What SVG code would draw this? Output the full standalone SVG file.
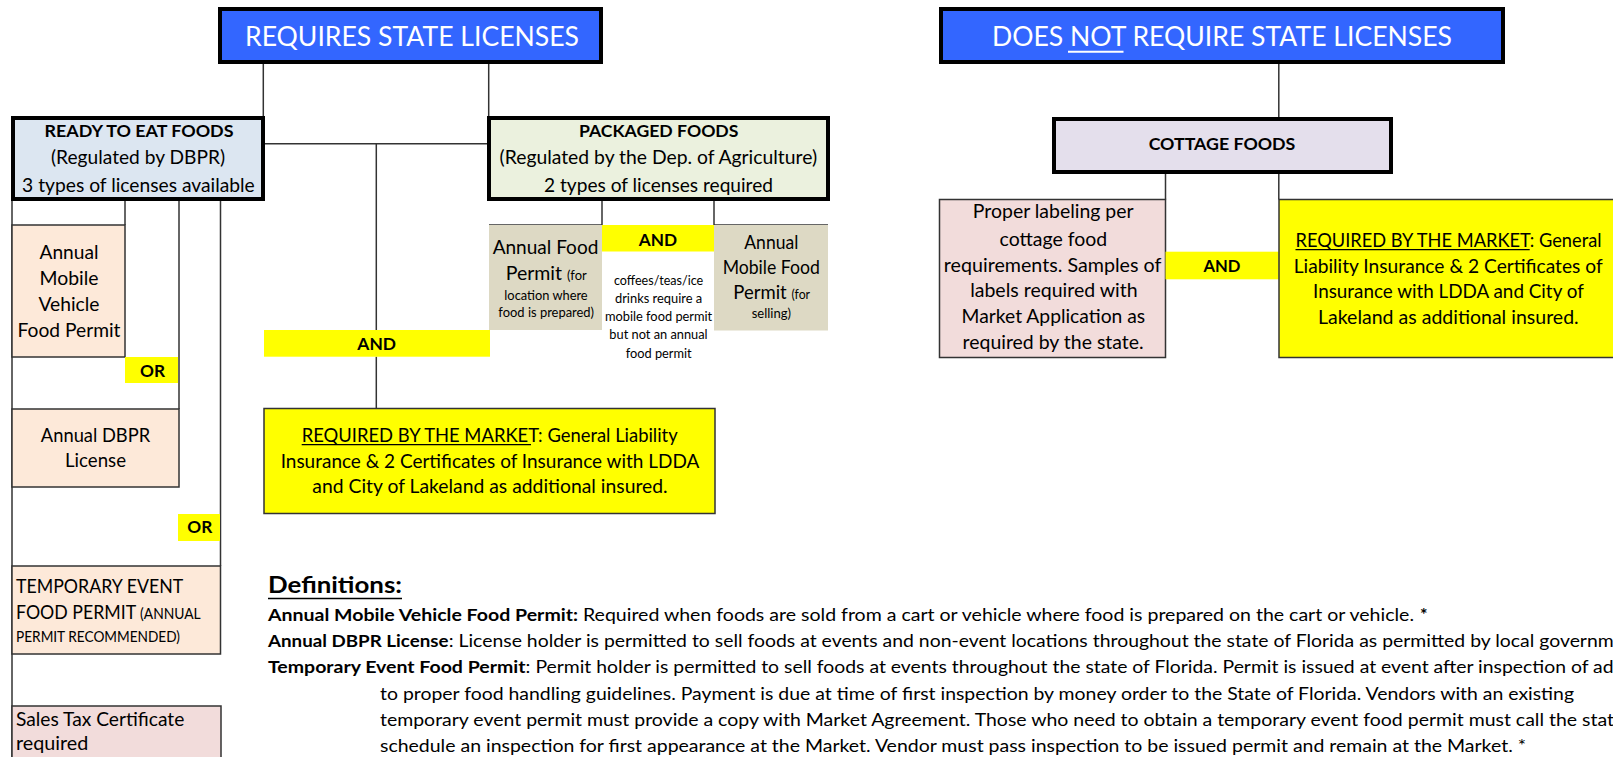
<svg xmlns="http://www.w3.org/2000/svg" width="1613" height="757" viewBox="0 0 1613 757">
<style>
text { font-family: Lato, 'Noto Sans', 'DejaVu Sans', sans-serif; fill: #000; }
.m { text-anchor: middle; }
.b { font-weight: 700; }
.w { fill: #fff; }
.ttl { font-size: 27px; }
.n { font-size: 18.7px; }
.nb { font-size: 17.7px; font-weight: 700; }
.s { font-size: 12.4px; }
.s2 { font-size: 14.6px; }
.d { font-size: 17.8px; }
.hdr { stroke: #000; stroke-width: 4; }
.box { stroke: #333; stroke-width: 1.5; }
.blue { fill: #3366FF; }
.peach { fill: #FDE9D9; }
.pink { fill: #F2DCDB; }
.tan { fill: #DDD9C4; }
.yel { fill: #FFFF00; }
#connectors line { stroke: #333; stroke-width: 1.5; }
.ul { stroke: #000; stroke-width: 1.3; }
</style>

<g id="connectors">
<line x1="263.3" y1="64" x2="263.3" y2="116"/>
<line x1="488.7" y1="64" x2="488.7" y2="116"/>
<line x1="265" y1="143.7" x2="487" y2="143.7"/>
<line x1="376.3" y1="143.7" x2="376.3" y2="330"/>
<line x1="376.3" y1="356.7" x2="376.3" y2="408.5"/>
<line x1="12" y1="200" x2="12" y2="757"/>
<line x1="125" y1="200" x2="125" y2="225"/>
<line x1="179" y1="200" x2="179" y2="409"/>
<line x1="220.5" y1="200" x2="220.5" y2="566"/>
<line x1="602" y1="200" x2="602" y2="225"/>
<line x1="714" y1="200" x2="714" y2="225"/>
<line x1="489" y1="225" x2="602" y2="225"/>
<line x1="714" y1="225" x2="828" y2="225"/>
<line x1="1278.8" y1="64" x2="1278.8" y2="117"/>
<line x1="1165.5" y1="173" x2="1165.5" y2="199.5"/>
<line x1="1278.8" y1="173" x2="1278.8" y2="199.5"/>
</g>

<g id="node-requires">
<rect class="blue hdr" x="220" y="9" width="381" height="53"/>
<text class="ttl m w" x="412" y="46" textLength="334" lengthAdjust="spacingAndGlyphs">REQUIRES STATE LICENSES</text>
</g>

<g id="node-does-not">
<rect class="blue hdr" x="941" y="9" width="562" height="53"/>
<text class="ttl m w" x="1222" y="46" textLength="460" lengthAdjust="spacingAndGlyphs">DOES NOT REQUIRE STATE LICENSES</text>
<line x1="1068" y1="51.7" x2="1123.5" y2="51.7" stroke="#fff" stroke-width="2"/>
</g>

<g id="node-ready">
<rect class="hdr" fill="#DCE6F1" x="13" y="118" width="250" height="81"/>
<text class="nb m" x="139" y="136.7" textLength="189" lengthAdjust="spacingAndGlyphs">READY TO EAT FOODS</text>
<text class="n m" x="138" y="164.3" textLength="174" lengthAdjust="spacingAndGlyphs">(Regulated by DBPR)</text>
<text class="n m" x="138.4" y="191.7" textLength="232.7" lengthAdjust="spacingAndGlyphs">3 types of licenses available</text>
</g>

<g id="node-packaged">
<rect class="hdr" fill="#EBF1DE" x="489" y="118" width="339" height="81"/>
<text class="nb m" x="658.7" y="136.7" textLength="159.5" lengthAdjust="spacingAndGlyphs">PACKAGED FOODS</text>
<text class="n m" x="658.3" y="164.3" textLength="317.5" lengthAdjust="spacingAndGlyphs">(Regulated by the Dep. of Agriculture)</text>
<text class="n m" x="658.5" y="191.7" textLength="229" lengthAdjust="spacingAndGlyphs">2 types of licenses required</text>
</g>

<g id="node-mobile-vehicle">
<rect class="peach box" x="12" y="225" width="113" height="132"/>
<text class="n m" x="69" y="259" textLength="59" lengthAdjust="spacingAndGlyphs">Annual</text>
<text class="n m" x="69" y="285" textLength="59" lengthAdjust="spacingAndGlyphs">Mobile</text>
<text class="n m" x="69" y="310.7" textLength="61" lengthAdjust="spacingAndGlyphs">Vehicle</text>
<text class="n m" x="69" y="336.7" textLength="103" lengthAdjust="spacingAndGlyphs">Food Permit</text>
</g>

<g id="node-or1">
<rect class="yel" x="125" y="357" width="53" height="26"/>
<text class="nb m" x="152.5" y="376.7" textLength="25" lengthAdjust="spacingAndGlyphs">OR</text>
</g>

<g id="node-dbpr">
<rect class="peach box" x="12" y="409" width="167" height="78"/>
<text class="n m" x="95.5" y="441.7" textLength="109.3" lengthAdjust="spacingAndGlyphs">Annual DBPR</text>
<text class="n m" x="95.5" y="467.3" textLength="61" lengthAdjust="spacingAndGlyphs">License</text>
</g>

<g id="node-or2">
<rect class="yel" x="178" y="514" width="42" height="27"/>
<text class="nb m" x="199.8" y="533.3" textLength="25" lengthAdjust="spacingAndGlyphs">OR</text>
</g>

<g id="node-temporary">
<rect class="peach box" x="12" y="566" width="208.5" height="88"/>
<text class="n" x="16" y="592.7" textLength="167.3" lengthAdjust="spacingAndGlyphs">TEMPORARY EVENT</text>
<text class="n" x="16" y="618.7" textLength="184.7" lengthAdjust="spacingAndGlyphs">FOOD PERMIT <tspan class="s2">(ANNUAL</tspan></text>
<text class="s2" x="16" y="642.3" textLength="164" lengthAdjust="spacingAndGlyphs">PERMIT RECOMMENDED)</text>
</g>

<g id="node-sales-tax">
<rect class="pink box" x="12" y="706" width="209" height="70"/>
<text class="n" x="16" y="726" textLength="168.3" lengthAdjust="spacingAndGlyphs">Sales Tax Certificate</text>
<text class="n" x="16" y="750" textLength="72.3" lengthAdjust="spacingAndGlyphs">required</text>
</g>

<g id="node-annual-food">
<rect class="tan" x="489" y="225" width="113" height="105"/>
<text class="n m" x="545.5" y="254" textLength="105.7" lengthAdjust="spacingAndGlyphs">Annual Food</text>
<text class="n m" x="546.2" y="280" textLength="81" lengthAdjust="spacingAndGlyphs">Permit <tspan class="s">(for</tspan></text>
<text class="s m" x="546" y="300" textLength="83.3" lengthAdjust="spacingAndGlyphs">location where</text>
<text class="s m" x="546.2" y="317.3" textLength="95.7" lengthAdjust="spacingAndGlyphs">food is prepared)</text>
</g>

<g id="node-and-packaged">
<rect class="yel" x="602" y="225" width="112" height="26.5"/>
<text class="nb m" x="658" y="246" textLength="38.3" lengthAdjust="spacingAndGlyphs">AND</text>
</g>

<g id="node-coffee-note">
<text class="s m" x="658.6" y="285" textLength="89.3" lengthAdjust="spacingAndGlyphs">coffees/teas/ice</text>
<text class="s m" x="658.6" y="302.7" textLength="87.3" lengthAdjust="spacingAndGlyphs">drinks require a</text>
<text class="s m" x="658.6" y="321.3" textLength="107.3" lengthAdjust="spacingAndGlyphs">mobile food permit</text>
<text class="s m" x="658.5" y="339.3" textLength="98.3" lengthAdjust="spacingAndGlyphs">but not an annual</text>
<text class="s m" x="658.7" y="357.5" textLength="66" lengthAdjust="spacingAndGlyphs">food permit</text>
</g>

<g id="node-annual-mobile-food">
<rect class="tan" x="714" y="225" width="114" height="105.5"/>
<text class="n m" x="771.3" y="249.3" textLength="54" lengthAdjust="spacingAndGlyphs">Annual</text>
<text class="n m" x="771.3" y="274.3" textLength="97.3" lengthAdjust="spacingAndGlyphs">Mobile Food</text>
<text class="n m" x="771.7" y="299.3" textLength="76.7" lengthAdjust="spacingAndGlyphs">Permit <tspan class="s">(for</tspan></text>
<text class="s m" x="771.3" y="318.3" textLength="39.3" lengthAdjust="spacingAndGlyphs">selling)</text>
</g>

<g id="node-and-left">
<rect class="yel" x="264" y="330" width="226" height="26.7"/>
<text class="nb m" x="376.7" y="350" textLength="38.7" lengthAdjust="spacingAndGlyphs">AND</text>
</g>

<g id="node-market-left">
<rect class="yel box" x="264" y="408.5" width="451" height="105"/>
<text class="n" x="301.7" y="441.7" textLength="376" lengthAdjust="spacingAndGlyphs">REQUIRED BY THE MARKET: General Liability</text>
<line class="ul" x1="301.7" y1="444.6" x2="531" y2="444.6"/>
<text class="n m" x="490" y="467.7" textLength="418.7" lengthAdjust="spacingAndGlyphs">Insurance &amp; 2 Certificates of Insurance with LDDA</text>
<text class="n m" x="490" y="493.3" textLength="355.3" lengthAdjust="spacingAndGlyphs">and City of Lakeland as additional insured.</text>
</g>

<g id="node-cottage">
<rect class="hdr" fill="#E4DFEC" x="1054" y="119" width="337" height="53"/>
<text class="nb m" x="1222" y="150" textLength="146.7" lengthAdjust="spacingAndGlyphs">COTTAGE FOODS</text>
</g>

<g id="node-labeling">
<rect class="pink box" x="939.5" y="199.5" width="226" height="158"/>
<text class="n m" x="1053.2" y="218.3" textLength="160.8" lengthAdjust="spacingAndGlyphs">Proper labeling per</text>
<text class="n m" x="1053.4" y="246" textLength="107.7" lengthAdjust="spacingAndGlyphs">cottage food</text>
<text class="n m" x="1052.6" y="271.7" textLength="217.5" lengthAdjust="spacingAndGlyphs">requirements. Samples of</text>
<text class="n m" x="1053.9" y="297.3" textLength="167.5" lengthAdjust="spacingAndGlyphs">labels required with</text>
<text class="n m" x="1053.4" y="323.3" textLength="183.6" lengthAdjust="spacingAndGlyphs">Market Application as</text>
<text class="n m" x="1053.1" y="349.3" textLength="181" lengthAdjust="spacingAndGlyphs">required by the state.</text>
</g>

<g id="node-and-cottage">
<rect class="yel" x="1165.5" y="251.7" width="113.3" height="27.6"/>
<text class="nb m" x="1222" y="271.7" textLength="37" lengthAdjust="spacingAndGlyphs">AND</text>
</g>

<g id="node-market-right">
<rect class="yel box" x="1279" y="199.5" width="340" height="158"/>
<text class="n" x="1295.5" y="246.7" textLength="306" lengthAdjust="spacingAndGlyphs">REQUIRED BY THE MARKET: General</text>
<line class="ul" x1="1295.5" y1="249.6" x2="1529.7" y2="249.6"/>
<text class="n" x="1293.7" y="272.7" textLength="309" lengthAdjust="spacingAndGlyphs">Liability Insurance &amp; 2 Certificates of</text>
<text class="n" x="1313" y="298.3" textLength="270.8" lengthAdjust="spacingAndGlyphs">Insurance with LDDA and City of</text>
<text class="n" x="1318" y="324" textLength="260.7" lengthAdjust="spacingAndGlyphs">Lakeland as additional insured.</text>
</g>

<g id="definitions">
<text class="b" x="268" y="592.7" font-size="23.7" textLength="134" lengthAdjust="spacingAndGlyphs">Definitions:</text>
<line x1="268" y1="598.5" x2="402" y2="598.5" stroke="#000" stroke-width="1.6"/>
<text class="d b" x="268" y="620.7" textLength="310" lengthAdjust="spacingAndGlyphs">Annual Mobile Vehicle Food Permit:</text>
<text class="d" x="583" y="620.7" textLength="831" lengthAdjust="spacingAndGlyphs">Required when foods are sold from a cart or vehicle where food is prepared on the cart or vehicle.</text>
<text class="d b" x="1420" y="620.7">*</text>
<text class="d b" x="268" y="646.7" textLength="180.5" lengthAdjust="spacingAndGlyphs">Annual DBPR License</text>
<text class="d" x="448.7" y="646.7" textLength="1165" lengthAdjust="spacingAndGlyphs">: License holder is permitted to sell foods at events and non-event locations throughout the state of Florida as permitted by local governm</text>
<text class="d b" x="268" y="673.3" textLength="257.5" lengthAdjust="spacingAndGlyphs">Temporary Event Food Permit</text>
<text class="d" x="525.6" y="673.3" textLength="1088" lengthAdjust="spacingAndGlyphs">: Permit holder is permitted to sell foods at events throughout the state of Florida. Permit is issued at event after inspection of ad</text>
<text class="d" x="380" y="700" textLength="1194" lengthAdjust="spacingAndGlyphs">to proper food handling guidelines. Payment is due at time of first inspection by money order to the State of Florida. Vendors with an existing</text>
<text class="d" x="380" y="726" textLength="1234" lengthAdjust="spacingAndGlyphs">temporary event permit must provide a copy with Market Agreement. Those who need to obtain a temporary event food permit must call the stat</text>
<text class="d" x="380" y="751.7" textLength="1146" lengthAdjust="spacingAndGlyphs">schedule an inspection for first appearance at the Market. Vendor must pass inspection to be issued permit and remain at the Market. *</text>
</g>
</svg>
